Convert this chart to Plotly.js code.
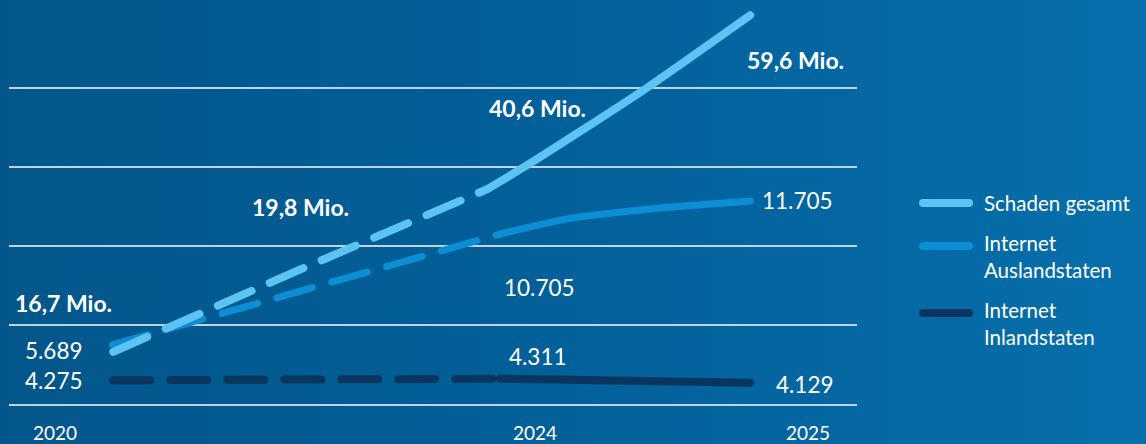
<!DOCTYPE html>
<html>
<head>
<meta charset="utf-8">
<script src="https://cdn.plot.ly/plotly-3.0.1.min.js"></script>
<style>
  html, body { margin: 0; padding: 0; }
  body { width: 1146px; height: 444px; overflow: hidden;
         background: linear-gradient(to right, #03568a 0%, #03609a 50%, #066fab 100%); }
  #chart { width: 1146px; height: 444px; }
  .scatterlayer path.js-line, .shapelayer path { stroke-linecap: round !important; stroke-linejoin: round !important; }
</style>
</head>
<body>
<div id="chart"></div>
<script>
// ---- Data ----
// Horizontal position index (0-100 across the grid), vertical position in grid units
const seriesNames = ['Schaden gesamt', 'Internet<br>Auslandstaten', 'Internet<br>Inlandstaten'];

const schadenDashX  = [12.3, 34.3, 56.4];
const schadenDashY  = [0.66, 1.70, 2.72];
const schadenSolidX = [56.4, 60.9, 68.5, 75.2, 87.4];
const schadenSolidY = [2.72, 3.01, 3.53, 4.00, 4.92];

const auslandDashX  = [12.2, 57.9];
const auslandDashY  = [0.75, 2.15];
const auslandSolidX = [57.9, 66.2, 76.8, 87.4];
const auslandSolidY = [2.15, 2.35, 2.48, 2.57];

const inlandDashX   = [12.3, 57.9];
const inlandDashY   = [0.30, 0.32];
const inlandSolidX  = [57.9, 87.4];
const inlandSolidY  = [0.32, 0.27];

const yearTicks  = ['2020', '2024', '2025'];
const totalLabels   = ['16,7 Mio.', '19,8 Mio.', '40,6 Mio.', '59,6 Mio.'];
const auslandLabels = ['5.689', '10.705', '11.705'];
const inlandLabels  = ['4.275', '4.311', '4.129'];

// ---- Styles ----
const colors = ['#5cc4f2', '#0b8ed3', '#08365f'];
const widths = [8, 7, 8];
const DASH = '37px,20px';
const FONT = 'Lato, "Noto Sans", sans-serif';

function trace(x, y, i, dashed) {
  return {
    x: x, y: y, type: 'scatter', mode: 'lines', showlegend: false, hoverinfo: 'skip',
    line: { color: colors[i], width: widths[i], dash: dashed ? DASH : 'solid', shape: 'spline', smoothing: 0.8 }
  };
}

const data = [
  trace(inlandDashX, inlandDashY, 2, true),
  trace(inlandSolidX, inlandSolidY, 2, false),
  trace(auslandDashX, auslandDashY, 1, true),
  trace(auslandSolidX, auslandSolidY, 1, false),
  trace(schadenDashX, schadenDashY, 0, true),
  trace(schadenSolidX, schadenSolidY, 0, false)
];

// label placement (layout positions)
const totalPos   = [[6.4, 1.28], [34.4, 2.49], [62.3, 3.75], [92.7, 4.35]];
const auslandPos = [[5.3, 0.68], [62.5, 1.47], [93.0, 2.58]];
const inlandPos  = [[5.3, 0.30], [62.4, 0.60], [93.9, 0.25]];

const annotations = [];
totalLabels.forEach((t, i) => annotations.push({
  x: totalPos[i][0], y: totalPos[i][1], xref: 'x', yref: 'y', text: '<b>' + t + '</b>', showarrow: false,
  font: { family: FONT, size: 23, color: '#ffffff' }, xanchor: 'center', yanchor: 'middle'
}));
auslandLabels.forEach((t, i) => annotations.push({
  x: auslandPos[i][0], y: auslandPos[i][1], xref: 'x', yref: 'y', text: t, showarrow: false,
  font: { family: FONT, size: 22.5, color: '#ffffff' }, xanchor: 'center', yanchor: 'middle'
}));
inlandLabels.forEach((t, i) => annotations.push({
  x: inlandPos[i][0], y: inlandPos[i][1], xref: 'x', yref: 'y', text: t, showarrow: false,
  font: { family: FONT, size: 22.5, color: '#ffffff' }, xanchor: 'center', yanchor: 'middle'
}));

// manual legend (swatch + text block)
const swatchY = [0.4975, 0.3911, 0.2252];
const textY   = [0.4975, 0.3651, 0.1993];
const shapes = [];
seriesNames.forEach((n, i) => {
  shapes.push({ type: 'line', xref: 'paper', yref: 'paper', x0: 1.0778, x1: 1.1321, y0: swatchY[i], y1: swatchY[i],
    line: { color: colors[i], width: 8 } });
  annotations.push({
    xref: 'paper', yref: 'paper', x: 1.1474, y: textY[i],
    xanchor: 'left', yanchor: 'middle', align: 'left', showarrow: false, text: n,
    font: { family: FONT, size: 20.5, color: '#ffffff' }
  });
});

const layout = {
  width: 1146, height: 444,
  margin: { l: 9, r: 289, t: 0, b: 40 },
  paper_bgcolor: 'rgba(0,0,0,0)', plot_bgcolor: 'rgba(0,0,0,0)',
  showlegend: false,
  xaxis: {
    range: [0, 100], showgrid: false, zeroline: false,
    showline: true, linecolor: 'rgba(225,232,240,0.85)', linewidth: 1.5,
    tickmode: 'array', tickvals: [5.42, 62.03, 94.22], ticktext: yearTicks,
    ticks: 'outside', ticklen: 12, tickcolor: 'rgba(0,0,0,0)',
    tickfont: { family: FONT, size: 19, color: '#ffffff' }, fixedrange: true
  },
  yaxis: {
    range: [0, 5.114], showgrid: true, gridcolor: 'rgba(225,232,240,0.85)', gridwidth: 1.5,
    tickmode: 'array', tickvals: [1, 2, 3, 4], showticklabels: false, zeroline: false, fixedrange: true
  },
  annotations: annotations,
  shapes: shapes
};

Plotly.newPlot('chart', data, layout, { staticPlot: true, displayModeBar: false });
</script>
</body>
</html>
